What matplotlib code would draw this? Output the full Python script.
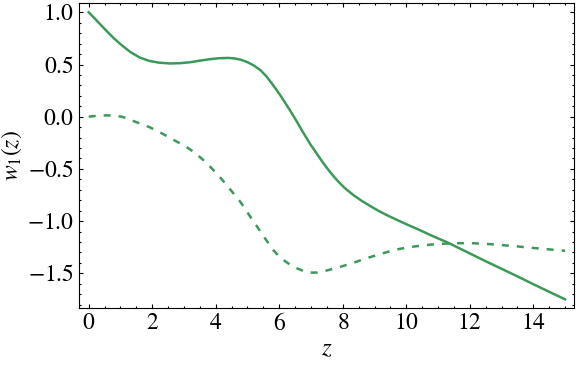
import matplotlib
matplotlib.use("Agg")
import matplotlib.pyplot as plt
from matplotlib.ticker import MultipleLocator, FuncFormatter

# solid curve
z_solid = [0.0, 0.2, 0.4, 0.6, 0.78, 1.0, 1.3, 1.6, 1.9, 2.2, 2.56, 2.9, 3.2,
           3.5, 3.82, 4.1, 4.4, 4.6, 4.8, 5.0, 5.18, 5.4, 5.6, 5.8, 6.0, 6.13,
           6.35, 6.55, 6.75, 6.97, 7.2, 7.39, 7.6, 7.81, 8.05, 8.33, 8.6, 8.86,
           9.1, 9.38, 9.7, 10.0, 10.4, 10.75, 11.0, 11.3, 11.65, 12.0, 12.5,
           12.95, 13.5, 14.0, 14.5, 15.0]
w_solid = [1.0, 0.938, 0.873, 0.81, 0.755, 0.695, 0.622, 0.568, 0.535, 0.518,
           0.51, 0.513, 0.522, 0.537, 0.551, 0.56, 0.563, 0.558, 0.545, 0.522,
           0.494, 0.448, 0.385, 0.305, 0.22, 0.16, 0.055, -0.045, -0.15, -0.26,
           -0.362, -0.446, -0.53, -0.606, -0.68, -0.75, -0.807, -0.855, -0.898,
           -0.942, -0.988, -1.03, -1.083, -1.133, -1.166, -1.205, -1.258,
           -1.31, -1.385, -1.45, -1.53, -1.605, -1.678, -1.75]

# dashed curve
z_dash = [0.0, 0.3, 0.57, 0.8, 1.04, 1.25, 1.46, 1.67, 1.88, 2.1, 2.3, 2.5,
          2.72, 2.93, 3.14, 3.33, 3.51, 3.7, 3.87, 4.03, 4.19, 4.33, 4.47,
          4.62, 4.77, 4.9, 5.03, 5.16, 5.29, 5.42, 5.55, 5.68, 5.81, 5.97,
          6.13, 6.34, 6.55, 6.76, 6.97, 7.2, 7.44, 7.67, 7.91, 8.17, 8.44,
          8.67, 8.91, 9.12, 9.33, 9.56, 9.8, 10.22, 10.75, 11.1, 11.48, 12.0,
          12.5, 12.95, 13.4, 13.9, 14.45, 15.0]
w_dash = [0.0, 0.01, 0.013, 0.009, 0.0, -0.02, -0.048, -0.071, -0.096, -0.127,
          -0.159, -0.193, -0.23, -0.265, -0.303, -0.343, -0.389, -0.44, -0.494,
          -0.546, -0.6, -0.65, -0.702, -0.758, -0.814, -0.872, -0.932, -0.99,
          -1.047, -1.106, -1.165, -1.222, -1.277, -1.33, -1.373, -1.417,
          -1.452, -1.478, -1.494, -1.493, -1.478, -1.46, -1.44, -1.415,
          -1.389, -1.364, -1.341, -1.321, -1.303, -1.283, -1.266, -1.245,
          -1.226, -1.218, -1.213, -1.211, -1.218, -1.229, -1.24, -1.255,
          -1.27, -1.285]

green = "#3b9a5a"

plt.rcParams["font.family"] = ["Liberation Serif", "DejaVu Serif"]
plt.rcParams["mathtext.fontset"] = "stix"

fig = plt.figure(figsize=(5.76, 3.67), dpi=100)
ax = fig.add_axes([0.138, 0.1616, 0.8585, 0.831])

ax.plot(z_solid, w_solid, color=green, lw=1.8, solid_joinstyle="round")
line, = ax.plot(z_dash, w_dash, color=green, lw=1.8, dash_capstyle="butt")
line.set_dashes([2.8, 3.2])

ax.set_xlim(-0.29, 15.28)
ax.set_ylim(-1.83, 1.092)

ax.xaxis.set_major_locator(MultipleLocator(2))
ax.xaxis.set_minor_locator(MultipleLocator(0.5))
ax.yaxis.set_major_locator(MultipleLocator(0.5))
ax.yaxis.set_minor_locator(MultipleLocator(0.1))
ax.xaxis.set_major_formatter(FuncFormatter(lambda v, p: f"$\\mathrm{{{v:.0f}}}$"))
ax.yaxis.set_major_formatter(FuncFormatter(lambda v, p: f"$\\mathrm{{{v:.1f}}}$"))

ax.tick_params(which="both", direction="in", top=True, right=True,
               width=0.8, labelsize=17, pad=4)
ax.tick_params(which="major", length=3)
ax.tick_params(which="minor", length=1.6)
for s in ax.spines.values():
    s.set_linewidth(0.8)

ax.set_xlabel("$z$", fontsize=18, labelpad=2)
ax.set_ylabel("$w_1(z)$", fontsize=17, labelpad=2)

fig.savefig("out.png", dpi=100)
